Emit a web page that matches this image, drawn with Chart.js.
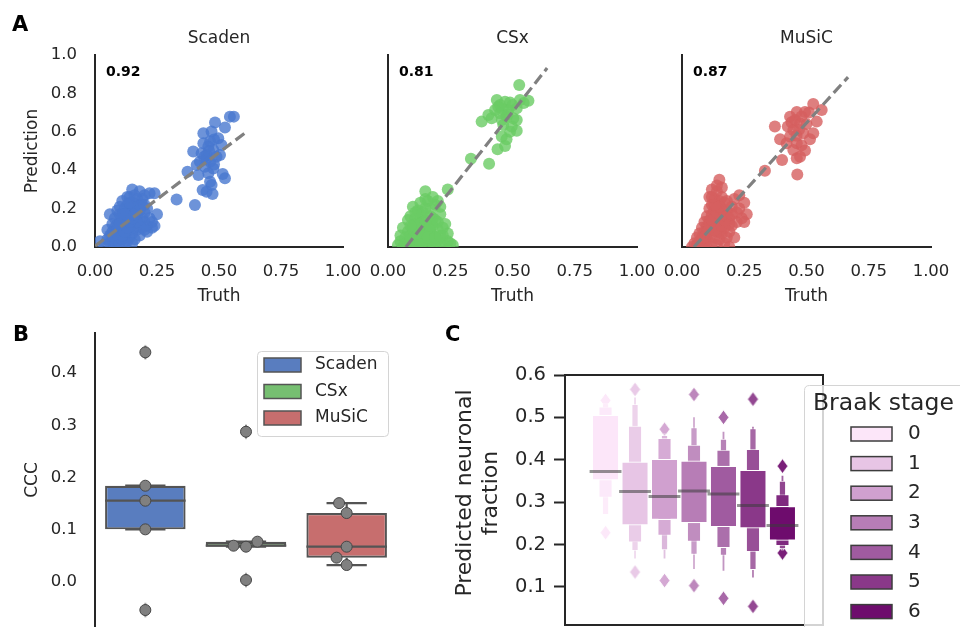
<!DOCTYPE html>
<html><head><meta charset="utf-8">
<script src="https://cdn.jsdelivr.net/npm/chart.js@4.4.1/dist/chart.umd.min.js"></script>
<style>
html,body{margin:0;padding:0;background:#fff;}
body{width:960px;height:627px;position:relative;overflow:hidden;}
canvas{position:absolute;}
.pl{position:absolute;font:bold 21px 'DejaVu Sans',sans-serif;line-height:1;color:#000;}
</style></head><body>
<canvas id="a1" width="370" height="310" style="left:0px;top:0px"></canvas>
<canvas id="a2" width="320" height="310" style="left:340px;top:0px"></canvas>
<canvas id="a3" width="320" height="310" style="left:640px;top:0px"></canvas>
<canvas id="b" width="420" height="317" style="left:0px;top:310px"></canvas>
<canvas id="c" width="540" height="317" style="left:420px;top:310px"></canvas>
<div class="pl" style="left:12px;top:14px">A</div>
<div class="pl" style="left:13px;top:324px">B</div>
<div class="pl" style="left:445px;top:324px">C</div>
<script>
// ================= DATA =================
const methodNames = ['Scaden', 'CSx', 'MuSiC'];
const cccText = ['0.92', '0.81', '0.87'];
const truthTicks = [0, 0.25, 0.5, 0.75, 1.0];
const predTicks = [0, 0.2, 0.4, 0.6, 0.8, 1.0];

const scadenPoints = [
 [0.02,0.03],[0.04,0.01],[0.05,0.04],[0.05,0.09],[0.06,0.02],[0.06,0.06],[0.06,0.17],[0.07,0.03],[0.07,0.08],[0.07,0.12],
 [0.08,0.01],[0.08,0.05],[0.08,0.10],[0.08,0.15],[0.09,0.03],[0.09,0.07],[0.09,0.12],[0.09,0.19],[0.10,0.02],[0.10,0.06],
 [0.10,0.10],[0.10,0.14],[0.10,0.21],[0.11,0.04],[0.11,0.09],[0.11,0.13],[0.11,0.17],[0.11,0.24],[0.12,0.06],[0.12,0.11],
 [0.12,0.15],[0.12,0.20],[0.13,0.03],[0.13,0.08],[0.13,0.13],[0.13,0.18],[0.13,0.22],[0.14,0.05],[0.14,0.10],[0.14,0.16],
 [0.14,0.20],[0.14,0.26],[0.15,0.07],[0.15,0.12],[0.15,0.18],[0.15,0.23],[0.15,0.30],[0.16,0.04],[0.16,0.14],[0.16,0.21],
 [0.17,0.09],[0.17,0.16],[0.17,0.25],[0.18,0.06],[0.18,0.12],[0.18,0.19],[0.18,0.29],[0.19,0.10],[0.19,0.15],[0.19,0.22],
 [0.20,0.13],[0.20,0.18],[0.20,0.27],[0.21,0.08],[0.21,0.11],[0.21,0.20],[0.22,0.15],[0.22,0.28],[0.23,0.10],[0.23,0.13],
 [0.24,0.28],[0.25,0.17],[0.24,0.11],[0.12,0.02],[0.16,0.10],[0.10,0.17],[0.13,0.26],[0.17,0.13],
 [0.09,0.09],[0.11,0.06],[0.12,0.08],[0.13,0.10],[0.14,0.13],[0.15,0.15],[0.16,0.17],[0.17,0.19],[0.18,0.22],[0.19,0.25],
 [0.20,0.22],[0.12,0.17],[0.10,0.12],[0.14,0.23],[0.16,0.27],[0.07,0.06],[0.15,0.02],[0.20,0.09],
 [0.329,0.248],[0.403,0.219],
 [0.544,0.679],[0.560,0.679],[0.484,0.648],[0.524,0.623],[0.437,0.592],[0.47,0.601],[0.48,0.56],[0.464,0.549],[0.457,0.523],
 [0.51,0.531],[0.396,0.497],[0.43,0.488],[0.45,0.479],[0.504,0.479],[0.423,0.444],[0.464,0.444],[0.443,0.418],[0.477,0.409],
 [0.373,0.392],[0.417,0.375],[0.457,0.384],[0.515,0.38],[0.524,0.358],[0.464,0.34],[0.47,0.323],[0.434,0.297],[0.45,0.288],
 [0.474,0.276],[0.41,0.427],[0.437,0.54],[0.497,0.566],[0.477,0.505],[0.45,0.46],[0.49,0.47],[0.46,0.50],[0.44,0.47],[0.48,0.43]
];
const csxPoints = [
 [0.04,0.01],[0.05,0.03],[0.05,0.06],[0.06,0.00],[0.06,0.10],[0.07,0.02],[0.07,0.05],[0.08,0.01],[0.08,0.08],[0.08,0.14],
 [0.09,0.03],[0.09,0.16],[0.10,0.00],[0.10,0.06],[0.10,0.11],[0.10,0.21],[0.11,0.02],[0.11,0.09],[0.11,0.15],[0.12,0.04],
 [0.12,0.12],[0.12,0.19],[0.13,0.00],[0.13,0.07],[0.13,0.17],[0.13,0.23],[0.14,0.02],[0.14,0.10],[0.14,0.14],[0.15,0.05],
 [0.15,0.20],[0.15,0.29],[0.16,0.00],[0.16,0.08],[0.16,0.12],[0.16,0.24],[0.17,0.03],[0.17,0.16],[0.17,0.20],[0.18,0.06],
 [0.18,0.11],[0.18,0.26],[0.19,0.01],[0.19,0.14],[0.19,0.22],[0.20,0.04],[0.20,0.09],[0.20,0.24],[0.21,0.02],[0.21,0.17],
 [0.21,0.21],[0.22,0.06],[0.23,0.01],[0.23,0.12],[0.24,0.07],[0.24,0.03],[0.24,0.30],[0.25,0.02],[0.26,0.01],[0.12,0.01],
 [0.14,0.06],[0.18,0.02],[0.11,0.12],[0.15,0.10],[0.13,0.03],[0.17,0.08],
 [0.09,0.06],[0.10,0.09],[0.12,0.07],[0.13,0.12],[0.14,0.18],[0.15,0.14],[0.16,0.05],[0.17,0.11],[0.18,0.15],[0.19,0.05],
 [0.20,0.13],[0.22,0.10],[0.09,0.11],[0.11,0.18],[0.15,0.25],[0.21,0.06],
 [0.333,0.46],[0.406,0.433],
 [0.527,0.844],[0.437,0.766],[0.47,0.757],[0.49,0.752],[0.53,0.766],[0.564,0.762],[0.403,0.688],[0.376,0.653],[0.416,0.67],
 [0.45,0.696],[0.483,0.714],[0.517,0.722],[0.503,0.67],[0.443,0.731],[0.463,0.635],[0.497,0.627],[0.517,0.606],[0.457,0.575],
 [0.476,0.561],[0.47,0.526],[0.44,0.509],[0.43,0.713],[0.476,0.679],[0.457,0.661],[0.517,0.661],[0.46,0.72],[0.50,0.74],
 [0.48,0.69],[0.45,0.74],[0.49,0.60],[0.545,0.75]
];
const musicPoints = [
 [0.04,0.00],[0.05,0.02],[0.06,0.01],[0.06,0.05],[0.07,0.07],[0.07,0.03],[0.08,0.00],[0.08,0.05],[0.08,0.10],[0.09,0.02],
 [0.09,0.08],[0.09,0.13],[0.10,0.04],[0.10,0.11],[0.10,0.16],[0.10,0.00],[0.11,0.07],[0.11,0.14],[0.11,0.20],[0.11,0.26],
 [0.12,0.02],[0.12,0.09],[0.12,0.17],[0.12,0.22],[0.13,0.05],[0.13,0.12],[0.13,0.19],[0.13,0.25],[0.14,0.01],[0.14,0.08],
 [0.14,0.15],[0.14,0.21],[0.14,0.29],[0.15,0.04],[0.15,0.11],[0.15,0.18],[0.15,0.35],[0.15,0.24],[0.16,0.07],[0.16,0.14],
 [0.16,0.31],[0.16,0.20],[0.17,0.02],[0.17,0.10],[0.17,0.17],[0.17,0.23],[0.18,0.05],[0.18,0.13],[0.18,0.19],[0.19,0.00],
 [0.19,0.08],[0.19,0.15],[0.20,0.11],[0.20,0.21],[0.21,0.25],[0.21,0.05],[0.22,0.18],[0.22,0.13],[0.23,0.27],[0.23,0.20],
 [0.24,0.15],[0.25,0.23],[0.26,0.17],[0.25,0.13],[0.12,0.30],[0.13,0.15],[0.15,0.08],[0.11,0.10],[0.16,0.26],
 [0.09,0.05],[0.10,0.08],[0.11,0.12],[0.12,0.14],[0.13,0.09],[0.14,0.18],[0.15,0.21],[0.16,0.11],[0.17,0.14],[0.18,0.16],
 [0.19,0.12],[0.20,0.17],[0.13,0.22],[0.12,0.26],[0.14,0.32],[0.18,0.24],
 [0.333,0.397],
 [0.527,0.745],[0.561,0.714],[0.541,0.653],[0.434,0.679],[0.461,0.703],[0.494,0.703],[0.373,0.627],[0.394,0.561],[0.527,0.592],
 [0.514,0.561],[0.494,0.502],[0.461,0.462],[0.474,0.47],[0.402,0.453],[0.463,0.378],[0.425,0.627],[0.447,0.609],[0.474,0.644],
 [0.434,0.575],[0.461,0.54],[0.487,0.592],[0.454,0.661],[0.42,0.54],[0.447,0.505],[0.48,0.68],[0.50,0.64],[0.44,0.65],
 [0.47,0.61],[0.51,0.70],[0.46,0.58],[0.48,0.53]
];
const scadenFit = [[0, 0.005], [0.605, 0.594]];
const csxFit = [[0.072, 0], [0.639, 0.932]];
const musicFit = [[0.048, 0], [0.667, 0.885]];

// Panel B: CCC per method
const cccScaden = [0.4396, 0.1843, 0.1556, 0.1008, -0.0536];
const cccCSx = [0.2877, 0.0772, 0.0695, 0.0676, 0.0038];
const cccMuSiC = [0.151, 0.132, 0.0676, 0.0466, 0.0325];
const cccTicks = [0, 0.1, 0.2, 0.3, 0.4];

// Panel C: letter-value boxes per Braak stage ([low, high] per level, innermost first)
const braakStages = ['0', '1', '2', '3', '4', '5', '6'];
const braakMedians = [0.372, 0.325, 0.313, 0.326, 0.319, 0.292, 0.245];
const braakLV0 = [[0.351,0.506],[0.311,0.525],[0.270,0.533]];
const braakLV1 = [[0.245,0.396],[0.205,0.480],[0.185,0.531],[0.165,0.549]];
const braakLV2 = [[0.258,0.402],[0.221,0.451],[0.187,0.458],[0.165,0.462]];
const braakLV3 = [[0.250,0.398],[0.207,0.435],[0.176,0.476],[0.140,0.502]];
const braakLV4 = [[0.241,0.386],[0.192,0.423],[0.174,0.449],[0.136,0.468]];
const braakLV5 = [[0.238,0.376],[0.183,0.425],[0.140,0.474],[0.120,0.480]];
const braakLV6 = [[0.209,0.291],[0.197,0.318],[0.190,0.350],[0.186,0.364]];
const braakOutliers = [[0.540,0.228],[0.566,0.135],[0.472,0.115],[0.554,0.103],[0.500,0.073],[0.543,0.054],[0.385,0.180]];
const fractionTicks = [0.1, 0.2, 0.3, 0.4, 0.5, 0.6];

// ================= STYLE =================
const methodColors = ['#4878d0', '#6acc64', '#d65f5f'];
const boxColors = ['#597dbf', '#76bf71', '#c76e6e'];
const braakColors = ['#fce6f9', '#e7c5e5', '#d0a0cf', '#b77db6', '#a05ba0', '#8a3889', '#6e0c6d'];
const TXT = '#262626';
Chart.defaults.font.family = "'DejaVu Sans', sans-serif";
Chart.defaults.color = TXT;
Chart.defaults.animation = false;

function hexRgb(h){ const n = parseInt(h.slice(1),16); return [n>>16&255, n>>8&255, n&255]; }
function rgba(h,a){ const c = hexRgb(h); return `rgba(${c[0]},${c[1]},${c[2]},${a})`; }
function mixWhite(h,t){ const c = hexRgb(h).map(v=>Math.round(v+(255-v)*t)); return `rgb(${c[0]},${c[1]},${c[2]})`; }
function diamondImg(fill, stroke, w, h, lw){
  const c = document.createElement('canvas'); c.width = w + 2; c.height = h + 2;
  const g = c.getContext('2d');
  g.beginPath(); g.moveTo(c.width/2, 1); g.lineTo(c.width-1, c.height/2); g.lineTo(c.width/2, c.height-1); g.lineTo(1, c.height/2); g.closePath();
  g.fillStyle = fill; g.fill();
  if (lw) { g.strokeStyle = stroke; g.lineWidth = lw; g.stroke(); }
  return c;
}
function fixedTicks(vals){ return s => { s.ticks = vals.map(v => ({value: v})); }; }
// fix axis thickness and drop the automatic label-overflow padding
function fixW(w){ return s => { s.width = w; s.paddingTop = 0; s.paddingBottom = 0; }; }
function fixH(h){ return s => { s.height = h; s.paddingLeft = 0; s.paddingRight = 0; }; }
function roundRect(ctx,x,y,w,h,r){ ctx.beginPath(); ctx.moveTo(x+r,y); ctx.lineTo(x+w-r,y); ctx.quadraticCurveTo(x+w,y,x+w,y+r); ctx.lineTo(x+w,y+h-r); ctx.quadraticCurveTo(x+w,y+h,x+w-r,y+h); ctx.lineTo(x+r,y+h); ctx.quadraticCurveTo(x,y+h,x,y+h-r); ctx.lineTo(x,y+r); ctx.quadraticCurveTo(x,y,x+r,y); ctx.closePath(); }

const annotPlugin = {
  id: 'annot',
  afterDatasetsDraw(chart, args, o) {
    if (!o || !o.text) return;
    const {ctx, chartArea: a} = chart;
    ctx.save(); ctx.font = "bold 14px 'DejaVu Sans'"; ctx.fillStyle = '#000';
    ctx.textBaseline = 'middle'; ctx.textAlign = 'left';
    ctx.fillText(o.text, a.left + o.dx, a.top + o.dy); ctx.restore();
  }
};

// ================= PANEL A =================
function scatterPanel(id, idx, pts, fit, yWidth, padRight, showY) {
  return new Chart(document.getElementById(id), {
    type: 'scatter',
    data: { datasets: [
      { data: fit.map(p => ({x: p[0], y: p[1]})), showLine: true, borderColor: '#808080', borderWidth: 3.2,
        borderDash: [11, 5], pointRadius: 0, fill: false, order: 0 },
      { data: pts.map(p => ({x: p[0], y: p[1]})), backgroundColor: rgba(methodColors[idx], 0.8),
        borderWidth: 0, pointRadius: 6, order: 1 }
    ]},
    options: {
      responsive: false, animation: false, events: [],
      layout: { autoPadding: false, padding: { left: 0, right: padRight, top: 0, bottom: 0 } },
      plugins: {
        legend: { display: false }, tooltip: { enabled: false },
        title: { display: true, text: methodNames[idx], fullSize: false, color: TXT,
                 font: { size: 17, weight: 'normal' }, padding: { top: 28.6, bottom: 6 } },
        annot: { text: cccText[idx], dx: 11, dy: 17.5 }
      },
      scales: {
        x: { type: 'linear', min: 0, max: 1, afterFit: fixH(63), afterBuildTicks: fixedTicks(truthTicks),
             grid: { display: false, drawTicks: false }, border: { display: true, color: TXT, width: 2 },
             ticks: { font: { size: 16.5 }, color: TXT, padding: 14.5, maxRotation: 0, autoSkip: false, callback: v => v.toFixed(2) },
             title: { display: true, text: 'Truth', color: TXT, font: { size: 17 }, padding: { top: 0, bottom: 3 } } },
        y: { type: 'linear', min: 0, max: 1, afterFit: fixW(yWidth), afterBuildTicks: fixedTicks(predTicks),
             grid: { display: false, drawTicks: false }, border: { display: true, color: TXT, width: 2 },
             ticks: { display: showY, font: { size: 16.5 }, color: TXT, padding: 18, callback: v => v.toFixed(1) },
             title: { display: showY, text: 'Prediction', color: TXT, font: { size: 17 }, padding: { top: 22.8, bottom: 0 } } }
      }
    },
    plugins: [annotPlugin]
  });
}
scatterPanel('a1', 0, scadenPoints, scadenFit, 95, 27, true);
scatterPanel('a2', 1, csxPoints, csxFit, 48, 23, false);
scatterPanel('a3', 2, musicPoints, musicFit, 42, 29, false);

// ================= PANEL B =================
function quantile(s, q){ const p = (s.length-1)*q, lo = Math.floor(p), hi = Math.ceil(p); return s[lo] + (s[hi]-s[lo])*(p-lo); }
function boxStats(vals){
  const s = [...vals].sort((a,b)=>a-b);
  const q1 = quantile(s,0.25), med = quantile(s,0.5), q3 = quantile(s,0.75), iqr = q3-q1;
  const lo = Math.min(...s.filter(v => v >= q1-1.5*iqr)), hi = Math.max(...s.filter(v => v <= q3+1.5*iqr));
  return { q1, med, q3, lo, hi, fliers: s.filter(v => v < lo || v > hi) };
}
const cccSets = [cccScaden, cccCSx, cccMuSiC];
const bStats = cccSets.map(boxStats);
const gap = {x: NaN, y: null};
const medianLines = bStats.flatMap((s,i) => [{x:i-0.4,y:s.med},{x:i+0.4,y:s.med},gap]);
const whiskerLines = bStats.flatMap((s,i) => [
  {x:i,y:s.q3},{x:i,y:s.hi},gap,{x:i,y:s.q1},{x:i,y:s.lo},gap,
  {x:i-0.2,y:s.hi},{x:i+0.2,y:s.hi},gap,{x:i-0.2,y:s.lo},{x:i+0.2,y:s.lo},gap]);
const fliers = bStats.flatMap((s,i) => s.fliers.map(v => ({x:i, y:v})));
const flierImg = diamondImg('#545454', '#545454', 8, 15, 0);

const legendB = {
  id: 'legendB',
  afterDraw(chart) {
    const ctx = chart.ctx, oy = 310;
    ctx.save();
    roundRect(ctx, 257.5, 351.5-oy, 131, 85, 4);
    ctx.fillStyle = 'rgba(255,255,255,0.8)'; ctx.fill();
    ctx.strokeStyle = '#d4d4d4'; ctx.lineWidth = 1; ctx.stroke();
    methodNames.forEach((m,i) => {
      const cy = 365 + i*26.5 - oy;
      ctx.fillStyle = boxColors[i]; ctx.fillRect(264, cy-7, 37, 14);
      ctx.strokeStyle = '#545454'; ctx.lineWidth = 1.5; ctx.strokeRect(264, cy-7, 37, 14);
      ctx.fillStyle = TXT; ctx.font = "17px 'DejaVu Sans'"; ctx.textBaseline = 'middle'; ctx.textAlign = 'left';
      ctx.fillText(m, 315, cy);
    });
    ctx.restore();
  }
};

const bChart = new Chart(document.getElementById('b'), {
  type: 'scatter',
  data: { datasets: [
    { data: cccSets.flatMap((vals,i) => vals.map(v => ({x:i, y:v}))), pointRadius: 5.5,
      backgroundColor: '#808080', borderColor: '#474747', borderWidth: 1, order: 0 },
    { data: medianLines, showLine: true, borderColor: '#545454', borderWidth: 2.2, pointRadius: 0, spanGaps: false, order: 1 },
    { type: 'bar', data: bStats.map((s,i) => ({x:i, y:[s.q1, s.q3]})), backgroundColor: boxColors,
      borderColor: '#545454', borderWidth: 2.2, borderSkipped: false, grouped: false,
      barPercentage: 0.8, categoryPercentage: 1, order: 2 },
    { data: whiskerLines, showLine: true, borderColor: '#545454', borderWidth: 2.2, pointRadius: 0, spanGaps: false, order: 3 },
    { data: fliers, pointStyle: flierImg, pointRadius: 4, order: 4 }
  ]},
  options: {
    responsive: false, animation: false, events: [],
    layout: { autoPadding: false, padding: { left: 0, right: 23, top: 23, bottom: 0 } },
    plugins: { legend: { display: false }, tooltip: { enabled: false } },
    scales: {
      x: { type: 'linear', min: -0.5, max: 2.5, offset: false, display: false, afterBuildTicks: fixedTicks([0, 1, 2]) },
      y: { type: 'linear', min: -0.0861, max: 0.4766, afterFit: fixW(95), afterBuildTicks: fixedTicks(cccTicks),
           grid: { display: false, drawTicks: false }, border: { display: true, color: TXT, width: 2 },
           ticks: { font: { size: 16.5 }, color: TXT, padding: 18, callback: v => v.toFixed(1) },
           title: { display: true, text: 'CCC', color: TXT, font: { size: 17 }, padding: { top: 22.8, bottom: 0 } } }
    }
  },
  plugins: [legendB]
});
// swarm placement of the points around each category centre
function swarmX(vals, cat, xs, ys, diam){
  const cx = xs.getPixelForValue(cat), placed = [], out = [];
  const order = vals.map((v,i)=>i).sort((a,b)=>vals[a]-vals[b]);
  for (const i of order) {
    const py = ys.getPixelForValue(vals[i]);
    const cands = [0];
    for (const p of placed) {
      const dy = py - p.py;
      if (Math.abs(dy) < diam) { const dx = Math.sqrt(diam*diam - dy*dy); cands.push(p.px-cx-dx, p.px-cx+dx); }
    }
    cands.sort((a,b) => Math.abs(a)-Math.abs(b) || a-b);
    let chosen = 0;
    for (const c of cands) { if (placed.every(p => Math.hypot(cx+c-p.px, py-p.py) >= diam-1e-6)) { chosen = c; break; } }
    placed.push({px: cx+chosen, py}); out[i] = xs.getValueForPixel(cx+chosen);
  }
  return out;
}
bChart.data.datasets[0].data = cccSets.flatMap((vals,i) => {
  const xsv = swarmX(vals, i, bChart.scales.x, bChart.scales.y, 12.5);
  return vals.map((v,j) => ({x: xsv[j], y: v}));
});
bChart.update();

// ================= PANEL C =================
const lvSets = [braakLV0, braakLV1, braakLV2, braakLV3, braakLV4, braakLV5, braakLV6];
const levelRatio = [0.93, 0.465, 0.2325, 0.116];
const levelDatasets = levelRatio.map((r,k) => ({
  type: 'bar',
  data: lvSets.map((lv,i) => ({x: i, y: lv[k] ? lv[k] : null})),
  backgroundColor: braakColors.map(c => mixWhite(c, 0.12*k)),
  borderColor: '#ffffff', borderWidth: k === 0 ? 1.2 : 0.8, borderSkipped: false,
  grouped: false, barPercentage: r, categoryPercentage: 1, order: 2 + k
}));
const braakMedianLines = braakMedians.flatMap((m,i) => [{x:i-0.54,y:m},{x:i+0.54,y:m},gap]);
const braakOutlierPts = braakOutliers.flatMap((o,i) => o.map(v => ({x:i, y:v})));
const outlierImgs = braakColors.map(c => diamondImg(mixWhite(c, 0.08), '#ffffff', 11, 15, 1));
const braakOutlierStyles = braakOutliers.flatMap((o,i) => o.map(() => outlierImgs[i]));
const fractionLabel = ['Predicted neuronal', 'fraction'];

const frameAndLegendC = {
  id: 'frameC',
  afterDatasetsDraw(chart) {
    const {ctx, chartArea: a} = chart;
    ctx.save(); ctx.strokeStyle = TXT; ctx.lineWidth = 2;
    ctx.strokeRect(a.left, a.top, a.right-a.left, a.bottom-a.top); ctx.restore();
  },
  afterDraw(chart) {
    const ctx = chart.ctx, ox = 420, oy = 310;
    ctx.save();
    // y-axis label (two lines, rotated)
    ctx.save(); ctx.translate(465-ox, 493-oy); ctx.rotate(-Math.PI/2);
    ctx.fillStyle = TXT; ctx.font = "22px 'DejaVu Sans'"; ctx.textAlign = 'center'; ctx.textBaseline = 'middle';
    fractionLabel.forEach((t,i) => ctx.fillText(t, 0, i*26.5));
    ctx.restore();
    // legend
    roundRect(ctx, 804.5-ox, 385.5-oy, 220, 300, 5);
    ctx.fillStyle = 'rgba(255,255,255,0.8)'; ctx.fill();
    ctx.strokeStyle = '#d4d4d4'; ctx.lineWidth = 1; ctx.stroke();
    ctx.fillStyle = TXT; ctx.textBaseline = 'middle'; ctx.textAlign = 'left';
    ctx.font = "23.5px 'DejaVu Sans'"; ctx.fillText('Braak stage', 813-ox, 404-oy);
    braakStages.forEach((s,i) => {
      const cy = 434 + i*29.6 - oy;
      ctx.fillStyle = braakColors[i]; ctx.fillRect(851-ox, cy-7, 41, 14);
      ctx.strokeStyle = '#3c3c3c'; ctx.lineWidth = 1.5; ctx.strokeRect(851-ox, cy-7, 41, 14);
      ctx.fillStyle = TXT; ctx.font = "20px 'DejaVu Sans'"; ctx.fillText(s, 908-ox, cy);
    });
    ctx.restore();
  }
};

new Chart(document.getElementById('c'), {
  type: 'scatter',
  data: { datasets: [
    { data: braakMedianLines, showLine: true, borderColor: 'rgba(60,60,60,0.55)', borderWidth: 3, pointRadius: 0, spanGaps: false, order: 1 },
    ...levelDatasets,
    { data: braakOutlierPts, pointStyle: braakOutlierStyles, pointRadius: 4, order: 10 }
  ]},
  options: {
    responsive: false, animation: false, events: [],
    layout: { autoPadding: false, padding: { left: 0, right: 137, top: 65, bottom: 2 } },
    plugins: { legend: { display: false }, tooltip: { enabled: false } },
    scales: {
      x: { type: 'linear', min: -1.375, max: 7.375, offset: false, display: false,
           afterBuildTicks: fixedTicks(braakStages.map((s,i) => i)) },
      y: { type: 'linear', min: 0.01, max: 0.6, afterFit: fixW(145), afterBuildTicks: fixedTicks(fractionTicks),
           grid: { display: true, drawOnChartArea: false, drawTicks: true, tickLength: 11, tickWidth: 2, tickColor: TXT },
           border: { display: true, color: TXT, width: 2 },
           ticks: { font: { size: 19.5 }, color: TXT, padding: 8, callback: v => v.toFixed(1) },
           title: { display: false } }
    }
  },
  plugins: [frameAndLegendC]
});
</script></body></html>
